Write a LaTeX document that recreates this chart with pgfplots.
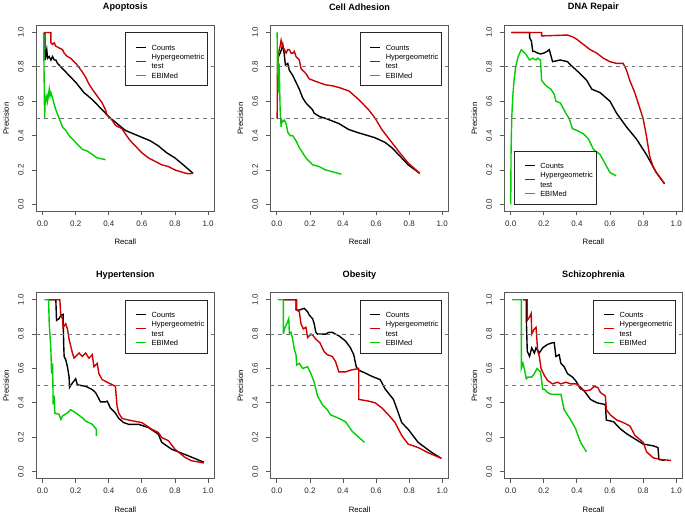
\documentclass[border=0pt]{standalone}
\usepackage{fontspec}
\setmainfont{Liberation Sans}
\usepackage{pgfplots}
\pgfplotsset{compat=1.18}
\definecolor{rred}{HTML}{CD0000}
\definecolor{rgreen}{HTML}{00CD00}
\tikzset{
  cnt/.style={black, line width=1.4pt},
  hyp/.style={rred, line width=1.4pt},
  ebi/.style={rgreen, line width=1.4pt},
  ref/.style={black!55, dash pattern=on 4pt off 4pt, line width=0.7pt},
  leg/.style={draw=black!85, line width=0.7pt, fill=white, inner sep=0pt},
}
% legend box as R draws it: text in a tabular, samples filled beside it
\newcommand{\rlegtext}{%
  \fontsize{7.5}{9.4}\selectfont
  \begin{tabular}{@{\hspace{26pt}}l@{\hspace{3pt}}}
  \rule{0pt}{17.4pt}Counts\\
  Hypergeometric\\
  test\\
  \rule[-7.6pt]{0pt}{7.6pt}EBIMed
  \end{tabular}}
\newcommand{\rleg}[3]{%
  \node[leg, anchor=#1] (#3) at (#2) {\rlegtext};
  \fill[fill=black] ([shift={(11pt,-14.4pt)}]#3.north west) rectangle ++(10pt,-1.2pt);
  \fill[fill=rred] ([shift={(11pt,-28.5pt)}]#3.north west) rectangle ++(10pt,-1.2pt);
  \fill[fill=rgreen] ([shift={(11pt,-42.6pt)}]#3.north west) rectangle ++(10pt,-1.2pt);
}
\pgfplotsset{
  pr/.style={scale only axis, width=179.5pt, height=186.5pt,
    xmin=-0.04, xmax=1.04, ymin=-0.04, ymax=1.04,
    xtick={0,0.2,0.4,0.6,0.8,1}, ytick={0,0.2,0.4,0.6,0.8,1},
    xticklabels={0.0,0.2,0.4,0.6,0.8,1.0}, yticklabels={0.0,0.2,0.4,0.6,0.8,1.0},
    tick align=outside, tick pos=left, major tick length=4.3pt,
    tick style={black!65, line width=0.8pt},
    axis line style={black!65, line width=0.9pt},
    ticklabel style={font=\fontsize{8}{9}\selectfont, text=black!85},
    yticklabel style={rotate=90, anchor=south},
    xticklabel shift=1.5pt, yticklabel shift=4.5pt,
    /pgf/number format/assume math mode=true,
    xlabel=Recall, ylabel=Precision,
    every axis x label/.style={at={(axis description cs:0.5,-0.167)}, anchor=center,
      font=\fontsize{7.8}{9}\selectfont},
    every axis y label/.style={at={(axis description cs:-0.167,0.5)}, rotate=90, anchor=center,
      font=\fontsize{7.8}{9}\selectfont},
    every axis title/.style={at={(axis description cs:0.5,1.097)}, anchor=center,
      font=\bfseries\fontsize{9.2}{10}\selectfont},
  },
}
\begin{document}
\begin{tikzpicture}
\path (0,0) rectangle (685pt,512pt);

% Apoptosis
\begin{axis}[pr, at={(34pt,303pt)}, anchor=south west, title={Apoptosis}]
\addplot[cnt] coordinates {(0.014,1.0)(0.015,0.84)(0.025,0.90)(0.03,0.85)(0.04,0.86)(0.05,0.84)(0.06,0.86)(0.07,0.84)(0.08,0.84)(0.09,0.82)(0.10,0.81)(0.12,0.79)(0.14,0.77)(0.17,0.74)(0.20,0.71)(0.25,0.65)(0.30,0.61)(0.35,0.56)(0.40,0.51)(0.45,0.47)(0.50,0.43)(0.55,0.41)(0.60,0.39)(0.65,0.37)(0.70,0.34)(0.75,0.30)(0.80,0.27)(0.85,0.23)(0.91,0.18)};
\addplot[hyp] coordinates {(0.01,1.0)(0.05,1.0)(0.05,0.94)(0.06,0.93)(0.07,0.94)(0.08,0.92)(0.10,0.91)(0.12,0.90)(0.13,0.88)(0.15,0.86)(0.17,0.85)(0.19,0.83)(0.21,0.81)(0.24,0.77)(0.26,0.74)(0.28,0.70)(0.30,0.67)(0.33,0.63)(0.36,0.59)(0.38,0.55)(0.39,0.52)(0.40,0.51)(0.42,0.49)(0.44,0.46)(0.46,0.45)(0.48,0.44)(0.50,0.41)(0.53,0.37)(0.56,0.34)(0.60,0.30)(0.64,0.27)(0.68,0.25)(0.72,0.23)(0.76,0.22)(0.80,0.20)(0.85,0.185)(0.88,0.178)(0.91,0.18)};
\addplot[ebi] coordinates {(0.006,1.0)(0.012,0.5)(0.016,0.62)(0.02,0.6)(0.026,0.63)(0.03,0.6)(0.04,0.67)(0.045,0.63)(0.05,0.65)(0.06,0.62)(0.07,0.58)(0.08,0.55)(0.10,0.50)(0.12,0.45)(0.14,0.43)(0.16,0.40)(0.18,0.38)(0.20,0.36)(0.22,0.34)(0.24,0.32)(0.27,0.31)(0.30,0.29)(0.33,0.27)(0.38,0.26)};
\addplot[ref] coordinates {(-0.04,0.8)(1.04,0.8)};
\addplot[ref] coordinates {(-0.04,0.5)(1.04,0.5)};
\rleg{north west}{axis cs:0.5,1.0}{LA}
\end{axis}

% Cell Adhesion
\begin{axis}[pr, at={(269.3pt,303pt)}, anchor=south west, title={Cell Adhesion}]
\addplot[cnt] coordinates {(0.004,0.82)(0.01,0.86)(0.02,0.88)(0.028,0.9)(0.036,0.93)(0.044,0.88)(0.052,0.81)(0.066,0.82)(0.076,0.78)(0.096,0.75)(0.116,0.71)(0.136,0.67)(0.156,0.62)(0.176,0.59)(0.196,0.57)(0.216,0.55)(0.226,0.53)(0.26,0.51)(0.295,0.50)(0.335,0.485)(0.375,0.47)(0.435,0.435)(0.495,0.416)(0.55,0.40)(0.595,0.387)(0.655,0.36)(0.695,0.33)(0.735,0.29)(0.794,0.23)(0.864,0.18)};
\addplot[hyp] coordinates {(0.0,0.5)(0.002,0.5)(0.004,0.8)(0.01,0.88)(0.02,0.92)(0.026,0.955)(0.036,0.915)(0.046,0.9)(0.056,0.88)(0.066,0.9)(0.076,0.9)(0.086,0.88)(0.096,0.88)(0.106,0.89)(0.116,0.86)(0.136,0.84)(0.146,0.79)(0.176,0.76)(0.196,0.73)(0.236,0.715)(0.295,0.695)(0.335,0.69)(0.375,0.68)(0.435,0.66)(0.495,0.61)(0.555,0.55)(0.595,0.50)(0.635,0.435)(0.695,0.36)(0.735,0.31)(0.794,0.24)(0.83,0.21)(0.864,0.18)};
\addplot[ebi] coordinates {(0.002,1.0)(0.004,0.75)(0.006,0.9)(0.01,0.65)(0.014,0.82)(0.02,0.55)(0.026,0.45)(0.03,0.49)(0.036,0.48)(0.046,0.49)(0.056,0.47)(0.066,0.42)(0.08,0.40)(0.096,0.40)(0.116,0.37)(0.136,0.33)(0.156,0.30)(0.176,0.27)(0.196,0.25)(0.216,0.23)(0.255,0.22)(0.295,0.20)(0.355,0.185)(0.39,0.175)};
\addplot[ref] coordinates {(-0.04,0.8)(1.04,0.8)};
\addplot[ref] coordinates {(-0.04,0.5)(1.04,0.5)};
\rleg{north west}{axis cs:0.5,1.0}{LB}
\end{axis}

% DNA Repair
\begin{axis}[pr, at={(504.3pt,303pt)}, anchor=south west, title={DNA Repair}]
\addplot[cnt] coordinates {(0.004,1.0)(0.114,1.0)(0.114,0.97)(0.125,0.95)(0.133,0.89)(0.143,0.89)(0.163,0.88)(0.18,0.875)(0.2,0.88)(0.22,0.89)(0.233,0.90)(0.253,0.83)(0.3,0.84)(0.343,0.83)(0.363,0.81)(0.42,0.76)(0.46,0.72)(0.49,0.67)(0.54,0.65)(0.6,0.6)(0.64,0.53)(0.7,0.45)(0.76,0.38)(0.82,0.29)(0.88,0.185)(0.93,0.12)};
\addplot[hyp] coordinates {(0.004,1.0)(0.187,1.0)(0.187,0.98)(0.343,0.985)(0.373,0.975)(0.40,0.96)(0.44,0.93)(0.48,0.90)(0.52,0.88)(0.56,0.85)(0.60,0.83)(0.64,0.82)(0.68,0.82)(0.70,0.78)(0.72,0.72)(0.75,0.65)(0.77,0.59)(0.80,0.50)(0.82,0.40)(0.84,0.28)(0.86,0.22)(0.88,0.185)(0.91,0.146)(0.93,0.12)};
\addplot[ebi] coordinates {(0.0,0.0)(0.002,0.3)(0.006,0.5)(0.012,0.62)(0.02,0.72)(0.03,0.8)(0.045,0.86)(0.064,0.9)(0.074,0.89)(0.094,0.87)(0.114,0.84)(0.133,0.85)(0.153,0.84)(0.163,0.85)(0.18,0.84)(0.187,0.72)(0.213,0.69)(0.243,0.67)(0.263,0.64)(0.273,0.6)(0.3,0.59)(0.333,0.53)(0.353,0.5)(0.373,0.44)(0.4,0.43)(0.44,0.41)(0.47,0.38)(0.5,0.32)(0.54,0.29)(0.58,0.22)(0.6,0.185)(0.637,0.166)};
\addplot[ref] coordinates {(-0.04,0.8)(1.04,0.8)};
\addplot[ref] coordinates {(-0.04,0.5)(1.04,0.5)};
\rleg{south west}{axis cs:0.02,0.0}{LC}
\end{axis}

% Hypertension
\begin{axis}[pr, at={(34pt,34.5pt)}, anchor=south west, title={Hypertension}]
\addplot[cnt] coordinates {(0.04,1.0)(0.08,1.0)(0.084,0.88)(0.1,0.89)(0.11,0.91)(0.124,0.915)(0.127,0.75)(0.13,0.67)(0.14,0.65)(0.15,0.61)(0.16,0.55)(0.163,0.49)(0.18,0.515)(0.2,0.54)(0.21,0.505)(0.26,0.496)(0.28,0.487)(0.3,0.477)(0.32,0.46)(0.35,0.406)(0.38,0.406)(0.39,0.41)(0.41,0.37)(0.44,0.34)(0.46,0.31)(0.49,0.285)(0.52,0.275)(0.58,0.275)(0.64,0.256)(0.7,0.217)(0.72,0.17)(0.78,0.13)(0.88,0.092)(0.976,0.054)};
\addplot[hyp] coordinates {(0.04,1.0)(0.104,1.0)(0.11,0.91)(0.12,0.89)(0.124,0.84)(0.14,0.86)(0.15,0.83)(0.16,0.77)(0.18,0.69)(0.19,0.66)(0.22,0.69)(0.24,0.67)(0.26,0.69)(0.28,0.66)(0.3,0.68)(0.31,0.61)(0.33,0.63)(0.34,0.57)(0.36,0.535)(0.4,0.515)(0.42,0.506)(0.44,0.496)(0.45,0.38)(0.46,0.34)(0.48,0.31)(0.5,0.304)(0.55,0.294)(0.6,0.285)(0.66,0.246)(0.7,0.227)(0.72,0.198)(0.76,0.18)(0.8,0.13)(0.86,0.083)(0.9,0.063)(0.976,0.05)};
\addplot[ebi] coordinates {(0.01,1.0)(0.036,1.0)(0.04,0.86)(0.05,0.71)(0.054,0.57)(0.06,0.63)(0.064,0.39)(0.07,0.44)(0.074,0.34)(0.1,0.333)(0.11,0.304)(0.12,0.323)(0.15,0.342)(0.17,0.36)(0.2,0.342)(0.24,0.313)(0.26,0.294)(0.3,0.275)(0.325,0.246)(0.325,0.208)};
\addplot[ref] coordinates {(-0.04,0.8)(1.04,0.8)};
\addplot[ref] coordinates {(-0.04,0.5)(1.04,0.5)};
\rleg{north west}{axis cs:0.5,1.0}{LD}
\end{axis}

% Obesity
\begin{axis}[pr, at={(269.3pt,34.5pt)}, anchor=south west, title={Obesity}]
\addplot[cnt] coordinates {(0.036,1.0)(0.116,1.0)(0.116,0.94)(0.136,0.94)(0.166,0.95)(0.186,0.93)(0.196,0.91)(0.216,0.89)(0.226,0.86)(0.236,0.81)(0.246,0.8)(0.295,0.8)(0.315,0.81)(0.335,0.81)(0.375,0.79)(0.415,0.76)(0.445,0.72)(0.465,0.68)(0.48,0.61)(0.495,0.59)(0.535,0.573)(0.575,0.554)(0.625,0.535)(0.655,0.48)(0.705,0.42)(0.735,0.34)(0.755,0.285)(0.794,0.246)(0.854,0.17)(0.934,0.113)(0.994,0.077)};
\addplot[hyp] coordinates {(0.036,1.0)(0.12,1.0)(0.12,0.94)(0.136,0.93)(0.146,0.86)(0.16,0.83)(0.176,0.84)(0.186,0.78)(0.206,0.8)(0.22,0.79)(0.236,0.77)(0.26,0.75)(0.285,0.7)(0.305,0.68)(0.335,0.67)(0.355,0.64)(0.375,0.58)(0.415,0.58)(0.445,0.59)(0.495,0.6)(0.495,0.42)(0.555,0.41)(0.595,0.4)(0.635,0.37)(0.675,0.33)(0.715,0.285)(0.755,0.21)(0.794,0.16)(0.854,0.14)(0.914,0.11)(0.994,0.077)};
\addplot[ebi] coordinates {(0.006,1.0)(0.04,1.0)(0.04,0.8)(0.046,0.83)(0.06,0.86)(0.072,0.89)(0.076,0.8)(0.086,0.81)(0.096,0.77)(0.106,0.71)(0.116,0.68)(0.12,0.62)(0.136,0.63)(0.156,0.6)(0.186,0.61)(0.206,0.57)(0.226,0.52)(0.246,0.44)(0.275,0.39)(0.305,0.36)(0.325,0.33)(0.375,0.31)(0.415,0.29)(0.455,0.235)(0.495,0.2)(0.53,0.17)};
\addplot[ref] coordinates {(-0.04,0.8)(1.04,0.8)};
\addplot[ref] coordinates {(-0.04,0.5)(1.04,0.5)};
\rleg{north west}{axis cs:0.5,1.0}{LE}
\end{axis}

% Schizophrenia
\begin{axis}[pr, at={(504.3pt,34.5pt)}, anchor=south west, title={Schizophrenia}]
\addplot[cnt] coordinates {(0.074,1.0)(0.094,1.0)(0.094,0.9)(0.1,0.7)(0.114,0.67)(0.127,0.72)(0.143,0.69)(0.153,0.72)(0.173,0.69)(0.193,0.72)(0.223,0.74)(0.253,0.75)(0.263,0.75)(0.273,0.67)(0.293,0.68)(0.303,0.63)(0.323,0.61)(0.343,0.57)(0.373,0.55)(0.392,0.53)(0.412,0.5)(0.452,0.46)(0.482,0.42)(0.522,0.4)(0.572,0.39)(0.578,0.3)(0.622,0.29)(0.661,0.25)(0.701,0.22)(0.751,0.19)(0.801,0.16)(0.861,0.15)(0.89,0.14)(0.896,0.07)(0.93,0.065)};
\addplot[hyp] coordinates {(0.074,1.0)(0.1,1.0)(0.1,0.88)(0.114,0.9)(0.124,0.92)(0.127,0.8)(0.143,0.83)(0.153,0.84)(0.163,0.7)(0.173,0.67)(0.183,0.6)(0.203,0.56)(0.223,0.53)(0.253,0.51)(0.283,0.52)(0.303,0.51)(0.333,0.52)(0.363,0.51)(0.402,0.51)(0.422,0.48)(0.452,0.47)(0.482,0.475)(0.502,0.495)(0.526,0.49)(0.542,0.46)(0.572,0.44)(0.578,0.36)(0.602,0.33)(0.641,0.3)(0.681,0.285)(0.721,0.265)(0.751,0.21)(0.801,0.17)(0.821,0.115)(0.861,0.08)(0.91,0.07)(0.97,0.065)};
\addplot[ebi] coordinates {(0.008,1.0)(0.064,1.0)(0.064,0.6)(0.074,0.63)(0.084,0.59)(0.094,0.54)(0.104,0.55)(0.127,0.55)(0.143,0.57)(0.159,0.6)(0.18,0.58)(0.193,0.48)(0.203,0.48)(0.223,0.46)(0.243,0.45)(0.303,0.45)(0.323,0.36)(0.363,0.3)(0.392,0.25)(0.422,0.17)(0.458,0.115)};
\addplot[ref] coordinates {(-0.04,0.8)(1.04,0.8)};
\addplot[ref] coordinates {(-0.04,0.5)(1.04,0.5)};
\rleg{north west}{axis cs:0.5,1.0}{LF}
\end{axis}
\end{tikzpicture}
\end{document}
